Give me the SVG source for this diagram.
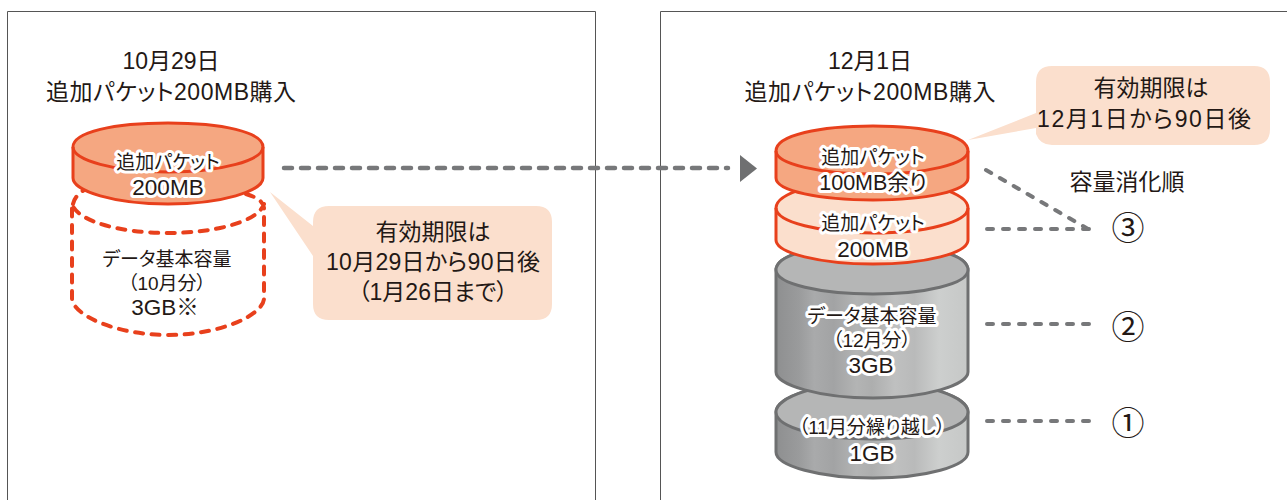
<svg xmlns="http://www.w3.org/2000/svg" width="1287" height="500" viewBox="0 0 1287 500">
<style>
text{font-family:"Liberation Sans","Noto Sans CJK JP",sans-serif;fill:#231815;text-anchor:middle;font-feature-settings:"palt"}
.l{font-size:23px}
.m{font-size:19px}
.n{font-size:22.500px}
.h{stroke:#fff;stroke-width:6px;stroke-linejoin:round;paint-order:stroke}
.c{font-size:33px;font-family:"Noto Sans CJK JP",sans-serif}
.panel{fill:#fff;stroke:#555;stroke-width:1}
.call{fill:#fbdfcd}
.o{stroke:#e8401c;stroke-width:3}
.g{stroke:#6f7071;stroke-width:3}
.d{fill:none;stroke:#77787a;stroke-width:4;stroke-linecap:round;stroke-dasharray:6 10}
</style>
<defs>
<linearGradient id="gr" x1="0" x2="1" y1="0" y2="0">
<stop offset="0" stop-color="#8e8f90"/><stop offset=".12" stop-color="#9a9b9c"/><stop offset=".2" stop-color="#a9aaab"/><stop offset=".3" stop-color="#a2a3a4"/><stop offset=".42" stop-color="#b3b4b4"/><stop offset=".5" stop-color="#adaeae"/><stop offset=".62" stop-color="#bfc0c0"/><stop offset=".72" stop-color="#b9baba"/><stop offset=".85" stop-color="#cdcfce"/><stop offset="1" stop-color="#c6c8c7"/>
</linearGradient>
</defs>
<g id="panels">
<path class="panel" d="M7.500 500V11.500H595.500V500"/>
<path class="panel" d="M660.500 500V11.500H1287"/>
</g>
<g id="connectors">
<path d="M284 168H728" fill="none" stroke="#77787a" stroke-width="4.500" stroke-linecap="round" stroke-dasharray="8 9"/>
<path d="M740 155L757 168.500L740 182Z" fill="#6f7071"/>
<path class="d" d="M986 170L1088 229"/>
<path class="d" d="M987 229H1089"/>
<path class="d" d="M987 324H1089"/>
<path class="d" d="M987 421H1089"/>
</g>
<g id="left-data">
<path d="M72 205C72 185 115 183 168 183S264 185 264 205V298C264 315 220 335 168 335S72 315 72 298Z" fill="#fff"/>
<path d="M73 204C75 195 83 190 90 187M246 194C255 197 263 200 264 208V298C264 315 220 335 168 335S72 315 72 298V204C78 222 122 233 168 233S258 222 264 204" fill="none" stroke="#e8401c" stroke-width="4" stroke-dasharray="8 8.500" stroke-linecap="round"/>
<text class="m" x="167" y="266">データ基本容量</text>
<text class="m" x="167" y="290">（10月分）</text>
<text class="n" x="165" y="315">3GB※</text>
</g>
<g id="left-packet">
<path class="o" fill="#f5a781" d="M73 147V178C73 191 114 204 168 204S263 191 263 178V147C263 132 222 123 168 123S73 132 73 147Z"/>
<path class="o" fill="none" d="M73 147C73 160 114 172 168 172S263 160 263 147"/>
<text class="m h" x="168" y="169">追加パケット</text>
<text class="n h" x="168" y="195">200MB</text>
</g>
<g id="right-data-2">
<path class="g" fill="url(#gr)" d="M776 412V452C776 466 820 478 873 478S968 466 968 452V412C968 397 926 382 873 382S776 397 776 412Z"/>
<path class="g" fill="#b5b6b6" d="M776 412C776 397 820 382 873 382S968 397 968 412C968 428 925 439 873 439S776 428 776 412Z"/>
<text class="m h" x="872" y="434">（11月分繰り越し）</text>
<text class="n h" x="872" y="461">1GB</text>
</g>
<g id="right-data-1">
<path class="g" fill="url(#gr)" d="M776 270V372C776 385 820 398 873 398S968 385 968 372V270C968 254 926 244 873 244S776 254 776 270Z"/>
<path class="g" fill="#b5b6b6" d="M776 270C776 254 820 244 873 244S968 254 968 270C968 284 925 294 873 294S776 284 776 270Z"/>
<text class="m h" x="872" y="323">データ基本容量</text>
<text class="m h" x="872" y="347">（12月分）</text>
<text class="n h" x="871" y="373">3GB</text>
</g>
<g id="right-packet-200">
<path class="o" fill="#fbdfcd" d="M776 208V240C776 253 820 264 873 264S968 253 968 240V208C968 193 926 180 873 180S776 193 776 208Z"/>
<path class="o" fill="none" d="M776 208C776 222 820 233 873 233S968 222 968 208"/>
<text class="m h" x="873" y="230">追加パケット</text>
<text class="n h" x="873" y="257">200MB</text>
</g>
<g id="right-packet-100">
<path class="o" fill="#f5a781" d="M776 151V178C776 191 820 200 873 200S968 191 968 178V151C968 135 926 126 873 126S776 135 776 151Z"/>
<path class="o" fill="none" d="M776 151C776 164 820 174 873 174S968 164 968 151"/>
<text class="m h" x="873" y="164">追加パケット</text>
<text class="n h" x="873" y="190" style="font-size:21.500px">100MB余り</text>
</g>
<g id="callout-left">
<path class="call" d="M270 192L313 226V222Q313 206 329 206H536Q552 206 552 222V304Q552 320 536 320H329Q313 320 313 304V256Z"/>
<text class="l" x="433" y="240">有効期限は</text>
<text class="l" x="433" y="270" textLength="214">10月29日から90日後</text>
<text class="l" x="433" y="300">（1月26日まで）</text>
</g>
<g id="callout-right">
<path class="call" d="M968 140L1036 113V82Q1036 66 1052 66H1254Q1270 66 1270 82V129Q1270 145 1254 145H1052Q1040 145 1036 134V128Z"/>
<text class="l" x="1151" y="96">有効期限は</text>
<text class="l" x="1144" y="127" textLength="214">12月1日から90日後</text>
</g>
<g id="titles">
<text class="l" x="171" y="69" textLength="97">10月29日</text>
<text class="l" x="171" y="100" textLength="250">追加パケット200MB購入</text>
<text class="l" x="870" y="69" textLength="84">12月1日</text>
<text class="l" x="870" y="100" textLength="251">追加パケット200MB購入</text>
<text class="l" x="1127" y="190" textLength="115">容量消化順</text>
</g>
<g id="order">
<text class="c" x="1128" y="240">③</text>
<text class="c" x="1128" y="339">②</text>
<text class="c" x="1128" y="435">①</text>
</g>
</svg>
